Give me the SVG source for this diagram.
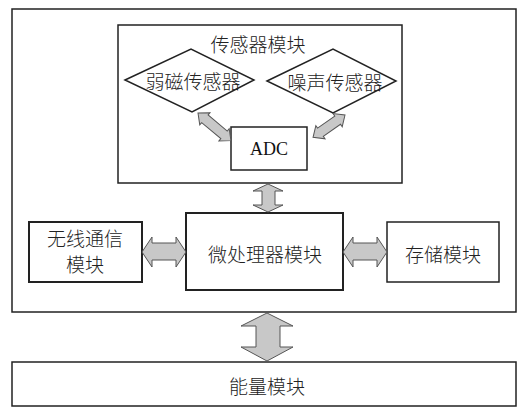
<svg xmlns="http://www.w3.org/2000/svg" width="526" height="407" viewBox="0 0 526 407">
<style>
.box{fill:#fff;stroke:#222;stroke-width:1.5}
.thick{stroke-width:2}
.arr{fill:#c8c8c8;stroke:#555;stroke-width:1}
.t{font-family:"Noto Sans CJK SC","Liberation Sans",sans-serif;font-size:19px;font-weight:300;fill:#222;text-anchor:middle;dominant-baseline:central}
.s{font-family:"Liberation Serif",serif;font-size:18px;fill:#111;text-anchor:middle;dominant-baseline:central}
</style>
<rect width="526" height="407" fill="#fff"/>
<g id="main">
<rect class="box" x="12" y="9" width="504" height="303"/>
</g>
<g id="sensor-module">
<rect class="box" x="118" y="25" width="284" height="158"/>
<text class="t" x="258" y="43">传感器模块</text>
</g>
<g id="weak-magnetic">
<polygon class="box" points="125,80 191,49 254,80 192,112"/>
<text class="t" x="193" y="80">弱磁传感器</text>
</g>
<g id="noise">
<polygon class="box" points="267,81 333,49 396,81 333,113"/>
<text class="t" x="335" y="81">噪声传感器</text>
</g>
<g id="adc">
<rect class="box" x="231" y="127" width="76" height="43"/>
<text class="s" x="269" y="149">ADC</text>
</g>
<g id="mcu">
<rect class="box thick" x="186" y="213" width="157" height="77"/>
<text class="t" x="265" y="253">微处理器模块</text>
</g>
<g id="wireless">
<rect class="box thick" x="29" y="222" width="113" height="60"/>
<text class="t" x="85" y="237" font-size="18">无线通信</text>
<text class="t" x="85" y="263" font-size="18">模块</text>
</g>
<g id="storage">
<rect class="box" x="387" y="222" width="112" height="60"/>
<text class="t" x="443" y="253">存储模块</text>
</g>
<g id="energy">
<rect class="box" x="12" y="362" width="504" height="44"/>
<text class="t" x="267" y="385">能量模块</text>
</g>
<g id="connectors">
<path class="arr" transform="translate(198,113) rotate(40)" d="M0,0 L9,-8 L9,-5 L34,-5 L34,-8 L43,0 L34,8 L34,5 L9,5 L9,8 Z"/>
<path class="arr" transform="translate(345,115) rotate(145)" d="M0,0 L9,-8 L9,-5 L30,-5 L30,-8 L39,0 L30,8 L30,5 L9,5 L9,8 Z"/>
<path class="arr" d="M268,184 L283,191 L275,191 L275,205 L283,205 L268,212 L253,205 L262,205 L262,191 L253,191 Z"/>
<path class="arr" d="M142,252 L152,237 L152,243 L176,243 L176,237 L186,252 L176,267 L176,260 L152,260 L152,267 Z"/>
<path class="arr" d="M343,252 L353,237 L353,243 L377,243 L377,237 L387,252 L377,267 L377,260 L353,260 L353,267 Z"/>
<path class="arr" d="M267,313 L293,326 L280,326 L280,347 L293,347 L267,361 L241,347 L256,347 L256,326 L241,326 Z"/>
</g>
</svg>
